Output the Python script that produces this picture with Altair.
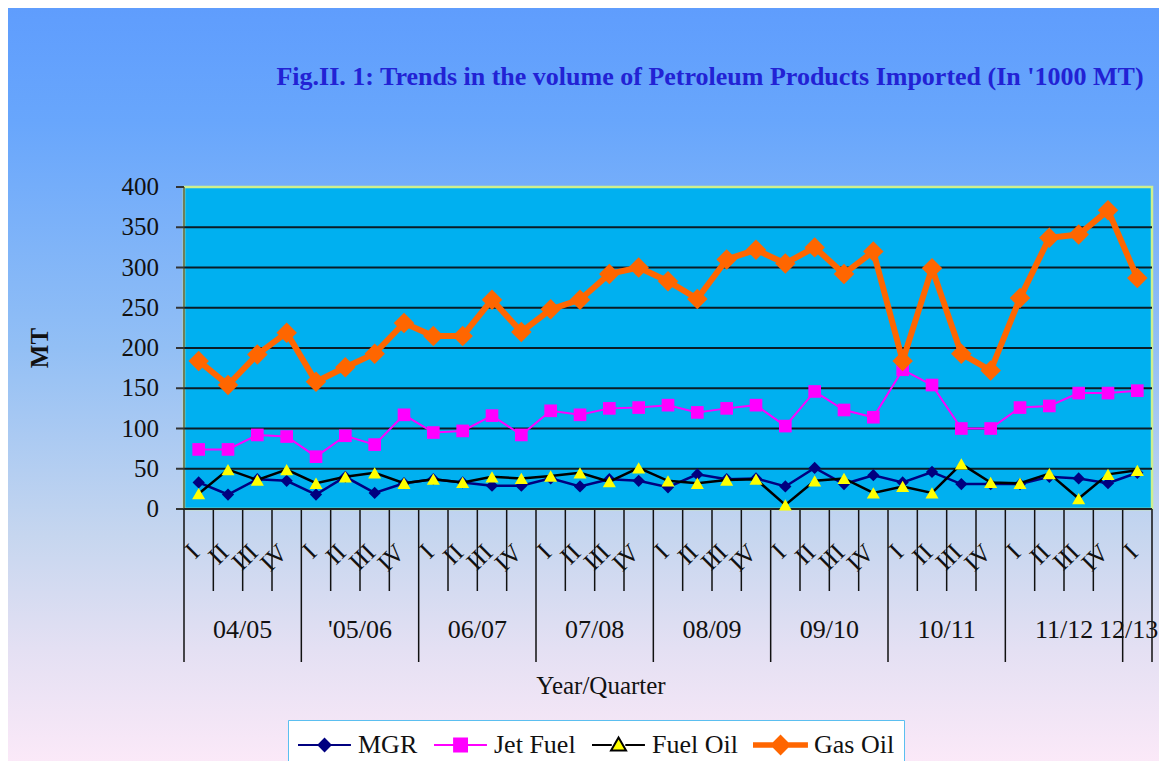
import altair as alt
import pandas as pd

# ---------------- data ----------------
TITLE = "Fig.II. 1: Trends in the volume of  Petroleum Products Imported (In '1000 MT)"
Y_TITLE = "MT"
X_TITLE = "Year/Quarter"
YEARS = ["04/05", "'05/06", "06/07", "07/08", "08/09", "09/10", "10/11", "11/12", "12/13"]
QUARTERS_PER_YEAR = [4, 4, 4, 4, 4, 4, 4, 4, 1]
QUARTER_NAMES = ["I", "II", "III", "IV"]
SERIES = ["MGR", "Jet Fuel", "Fuel Oil", "Gas Oil"]
Y_TICKS = [0, 50, 100, 150, 200, 250, 300, 350, 400]
GRID_LINES = [50, 100, 150, 200, 250, 300, 350]

MGR = [33, 18, 37, 35, 18, 40, 20, 32, 37, 33, 29, 29, 38, 28, 37, 35, 27,
       43, 37, 38, 28, 51, 31, 42, 33, 46, 31, 31, 31, 40, 38, 32, 45]
JET_FUEL = [74, 74, 92, 90, 65, 91, 80, 117, 95, 97, 116, 92, 122, 117, 125, 126, 129,
            120, 125, 129, 103, 146, 123, 114, 173, 154, 100, 100, 126, 128, 144, 144, 147]
FUEL_OIL = [19, 49, 36, 49, 32, 40, 45, 32, 37, 33, 40, 38, 41, 45, 34, 51, 35,
            32, 36, 37, 5, 35, 38, 20, 28, 20, 56, 33, 32, 44, 13, 43, 48]
GAS_OIL = [184, 154, 192, 219, 158, 176, 193, 231, 215, 215, 260, 220, 248, 260, 292, 300, 283,
           261, 310, 322, 305, 325, 292, 320, 184, 299, 193, 172, 262, 337, 341, 371, 287]

# ---------------- derived tables ----------------
quarter_labels = [QUARTER_NAMES[q] for n in QUARTERS_PER_YEAR for q in range(n)]
N = len(quarter_labels)
year_bounds = [0]
for n in QUARTERS_PER_YEAR:
    year_bounds.append(year_bounds[-1] + n)
quarter_bounds = [b for b in range(N + 1) if b not in year_bounds]

rows = []
for name, vals in zip(SERIES, [MGR, JET_FUEL, FUEL_OIL, GAS_OIL]):
    for i, v in enumerate(vals):
        rows.append({"series": name, "i": i, "v": v})
df = pd.DataFrame(rows)

years_df = pd.DataFrame({"year": YEARS, "start": year_bounds[:-1], "end": year_bounds[1:]})
quarters_df = pd.DataFrame({"q": quarter_labels, "i": list(range(N))})

W, H = 968, 322
xscale = alt.Scale(domain=[0, N], nice=False, zero=False)
yscale = alt.Scale(domain=[0, 400], nice=False, zero=False)
FONT = "Liberation Serif"
INK = "#111111"

one = pd.DataFrame({"k": [0]})

gradient = {
    "gradient": "linear", "x1": 0, "x2": 0, "y1": 0, "y2": 1,
    "stops": [
        {"offset": 0.0, "color": "#5f9dfd"},
        {"offset": 0.15, "color": "#68a6fc"},
        {"offset": 0.45, "color": "#92bff5"},
        {"offset": 0.7, "color": "#c6d6ef"},
        {"offset": 0.85, "color": "#e4e0f3"},
        {"offset": 1.0, "color": "#fbe9f8"},
    ],
}

bg = alt.Chart(one).mark_rect(fill=gradient).encode(
    x=alt.value(-176), x2=alt.value(W + 8), y=alt.value(-179), y2=alt.value(H + 253)
)

plot_rect = alt.Chart(one).mark_rect(fill="#00b0f0", stroke="#cdf08e", strokeWidth=2.5).encode(
    x=alt.value(0), x2=alt.value(W), y=alt.value(0), y2=alt.value(H)
)

grid = alt.Chart(pd.DataFrame({"g": GRID_LINES})).mark_rule(color="#0b1c26", strokeWidth=2).encode(
    y=alt.Y("g:Q", scale=yscale, axis=None)
)

# y axis pieces (ticks, labels, line, title)
ytick_df = pd.DataFrame({"t": Y_TICKS})
y_ticks = alt.Chart(ytick_df).mark_rule(color="#333333", strokeWidth=2).encode(
    y=alt.Y("t:Q", scale=yscale, axis=None), x=alt.value(-8), x2=alt.value(0)
)
y_labels = alt.Chart(ytick_df).mark_text(
    font=FONT, fontSize=25, color=INK, align="right", baseline="middle"
).encode(y=alt.Y("t:Q", scale=yscale, axis=None), x=alt.value(-25), text="t:Q")
y_line = alt.Chart(one).mark_rule(color="#333333", strokeWidth=1.2).encode(
    x=alt.value(0), y=alt.value(0), y2=alt.value(H)
)
y_title = alt.Chart(pd.DataFrame({"t": [Y_TITLE]})).mark_text(
    font=FONT, fontSize=25, fontWeight="bold", color=INK, angle=270,
    align="center", baseline="middle"
).encode(x=alt.value(-144), y=alt.value(H / 2), text="t:N")

# x axis pieces
x_line = alt.Chart(one).mark_rule(color="#222222", strokeWidth=2).encode(
    x=alt.value(0), x2=alt.value(W), y=alt.value(H)
)
qsep = alt.Chart(pd.DataFrame({"b": quarter_bounds})).mark_rule(color=INK, strokeWidth=1.5).encode(
    x=alt.X("b:Q", scale=xscale, axis=None), y=alt.value(H), y2=alt.value(H + 82)
)
ysep = alt.Chart(pd.DataFrame({"b": year_bounds})).mark_rule(color=INK, strokeWidth=1.5).encode(
    x=alt.X("b:Q", scale=xscale, axis=None), y=alt.value(H), y2=alt.value(H + 153)
)
q_labels = alt.Chart(quarters_df).transform_calculate(x="datum.i + 0.5").mark_text(
    font=FONT, fontSize=25, color=INK, angle=315, align="right", baseline="middle", dx=-5
).encode(x=alt.X("x:Q", scale=xscale, axis=None), y=alt.value(H + 36), text="q:N")

# year labels centred under their quarters (last one nudged in so it stays visible)
year_text = alt.Chart(years_df).transform_calculate(
    mid="min((datum.start + datum.end) / 2, %d - 0.8)" % N
).mark_text(font=FONT, fontSize=26, color=INK, baseline="middle", align="center").encode(
    x=alt.X("mid:Q", scale=xscale, axis=None), y=alt.value(H + 121), text="year:N"
)
x_title = alt.Chart(pd.DataFrame({"t": [X_TITLE]})).mark_text(
    font=FONT, fontSize=25, color=INK, align="center", baseline="middle"
).encode(x=alt.value(417), y=alt.value(H + 177), text="t:N")

title_text = alt.Chart(pd.DataFrame({"t": [TITLE]})).mark_text(
    font=FONT, fontSize=26, fontWeight="bold", color="#2222d4", align="center", baseline="middle"
).encode(x=alt.value(526), y=alt.value(-110), text="t:N")

STYLE = {
    "MGR": dict(line="#000080", width=2.5, shape="diamond", fill="#000080", size=150),
    "Jet Fuel": dict(line="#ff00ff", width=2, shape="square", fill="#ff00ff", size=160),
    "Fuel Oil": dict(line="#000000", width=2.5, shape="triangle-up", fill="#ffff00", size=170),
    "Gas Oil": dict(line="#ff6600", width=6, shape="diamond", fill="#ff6600", size=420),
}

base = alt.Chart(df).transform_calculate(x="datum.i + 0.5")
series_layers = []
for name in SERIES:
    s = STYLE[name]
    sub = base.transform_filter(alt.datum.series == name)
    enc = dict(x=alt.X("x:Q", scale=xscale, axis=None), y=alt.Y("v:Q", scale=yscale, axis=None))
    series_layers.append(sub.mark_line(color=s["line"], strokeWidth=s["width"]).encode(**enc))
    series_layers.append(sub.mark_point(filled=True, shape=s["shape"], size=s["size"],
                                        color=s["fill"], opacity=1).encode(**enc))

# legend helper (no visible marks; legend from explicit scales)
LEG_PATHS = [
    "M-1,0H2.53M0.77,-0.4L1.17,0L0.77,0.4L0.37,0Z",
    "M-1,0H2.53M0.34,-0.43H1.2V0.43H0.34Z",
    "M-1,0H0.32M1.22,0H2.53M0.77,-0.5L1.27,0.36H0.27Z",
    "M-1,-0.12H2.53V0.12H-1ZM0.77,-0.6L1.37,0L0.77,0.6L0.17,0Z",
]
legend = alt.Legend(
    title=None, orient="none", legendX=104, legendY=533, direction="horizontal", columns=4,
    labelFont=FONT, labelFontSize=26, labelColor=INK, symbolSize=900,
    symbolStrokeWidth=2, symbolOpacity=1, labelOffset=29, columnPadding=12, padding=9,
    fillColor="#ffffff", strokeColor="#5bbff0", zindex=1,
)
leg_layer = alt.Chart(pd.DataFrame({"series": SERIES})).transform_filter("false").mark_point(
    filled=True, opacity=1, strokeWidth=2
).encode(
    shape=alt.Shape("series:N", scale=alt.Scale(domain=SERIES, range=LEG_PATHS), legend=legend),
    fill=alt.Fill("series:N", scale=alt.Scale(domain=SERIES, range=[STYLE[s]["fill"] for s in SERIES]), legend=legend),
    stroke=alt.Stroke("series:N", scale=alt.Scale(domain=SERIES, range=[STYLE[s]["line"] for s in SERIES]), legend=legend),
)

chart = alt.layer(
    bg, plot_rect, grid, y_line, y_ticks, y_labels, y_title,
    qsep, ysep, x_line, q_labels, year_text, x_title,
    *series_layers, title_text, leg_layer
).properties(
    width=W, height=H,
    autosize=alt.AutoSizeParams(type="none"),
    padding={"left": 176, "top": 179, "right": 7, "bottom": 252},
).configure(background="#fbe9f8", font=FONT).configure_view(stroke=None)

chart.save("out.html", embed_options={"renderer": "svg", "actions": False})
